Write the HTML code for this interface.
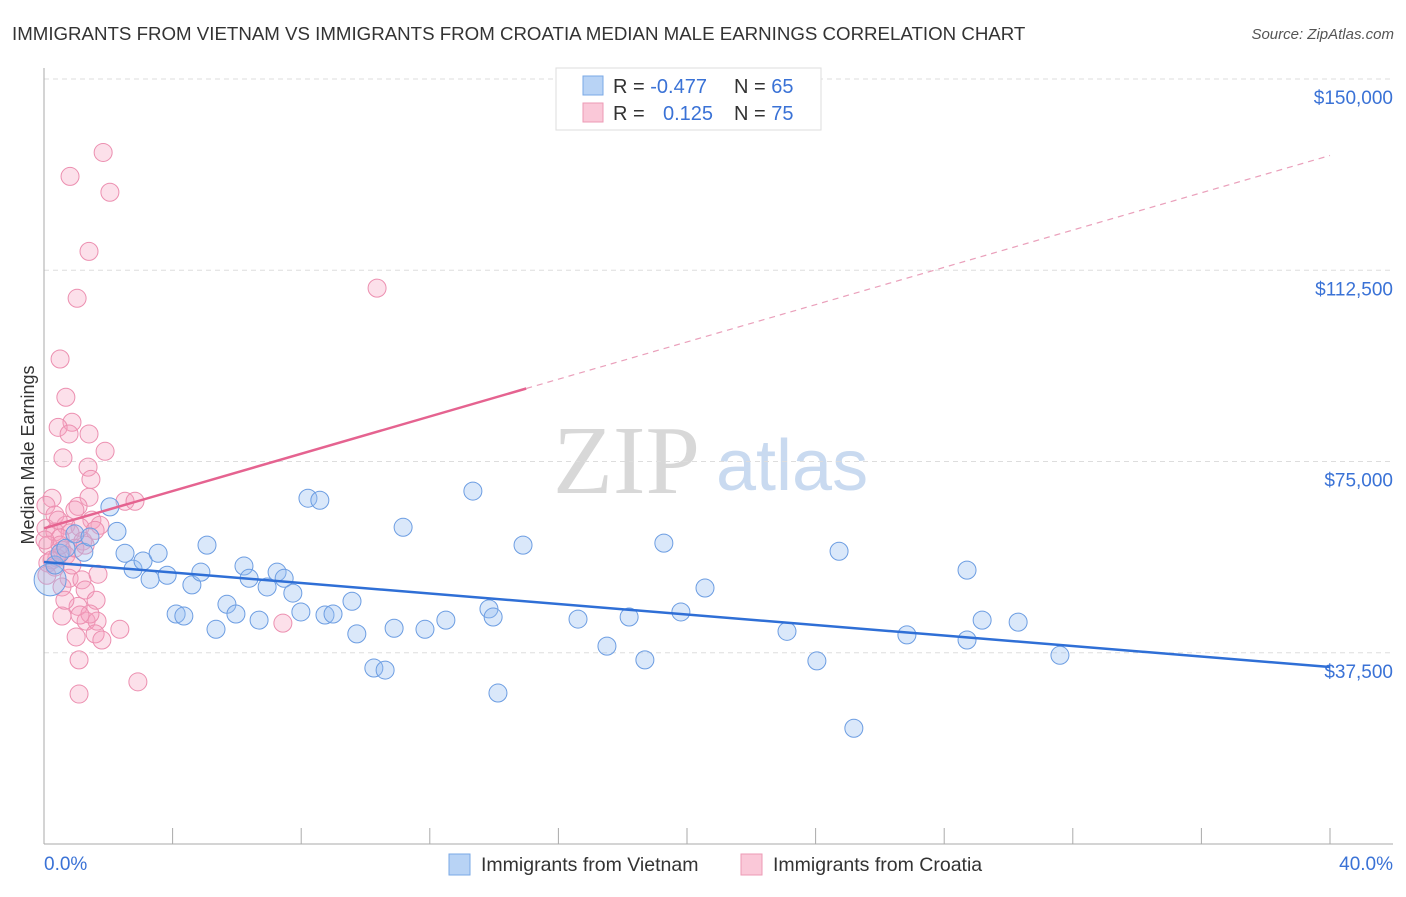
<!DOCTYPE html>
<html><head><meta charset="utf-8"><style>
body{margin:0;background:#fff;font-family:"Liberation Sans",sans-serif}
svg text{font-family:"Liberation Sans",sans-serif}
</style></head><body>
<svg id="c" width="1406" height="892" viewBox="0 0 1406 892">
<text x="12" y="40" font-size="18.7" fill="#333">IMMIGRANTS FROM VIETNAM VS IMMIGRANTS FROM CROATIA MEDIAN MALE EARNINGS CORRELATION CHART</text>
<text x="1394" y="39" font-size="15" fill="#555" font-style="italic" text-anchor="end">Source: ZipAtlas.com</text>
<g>
<text x="553" y="493" font-size="98" fill="#d8d8d8" font-family="Liberation Serif" style="font-family:'Liberation Serif',serif">ZIP</text>
<text x="716" y="490" font-size="72" fill="#c9daf0">atlas</text>
</g>
<g id="grid"></g>
<g id="axes"></g>
<g id="pts"></g>
<g id="trend"></g>
<text transform="translate(34,455) rotate(-90)" font-size="18" fill="#333" text-anchor="middle">Median Male Earnings</text>
<g>
<rect x="556" y="68" width="265" height="62" fill="#fff" stroke="#ddd"/>
<rect x="583" y="76" width="20" height="19" fill="#b8d3f5" stroke="#7aa8e6"/>
<rect x="583" y="103" width="20" height="19" fill="#fac8d8" stroke="#ec9ab5"/>
<text x="613" y="93" font-size="20" fill="#333">R = <tspan fill="#3a72d6">-0.477</tspan></text>
<text x="734" y="93" font-size="20" fill="#333">N = <tspan fill="#3a72d6">65</tspan></text>
<text x="613" y="120" font-size="20" fill="#333">R = </text>
<text x="663" y="120" font-size="20" fill="#3a72d6">0.125</text>
<text x="734" y="120" font-size="20" fill="#333">N = <tspan fill="#3a72d6">75</tspan></text>
</g>
<g>
<rect x="449" y="854" width="21" height="21" fill="#b8d3f5" stroke="#7aa8e6"/>
<text x="481" y="871" font-size="19.5" fill="#333">Immigrants from Vietnam</text>
<rect x="741" y="854" width="21" height="21" fill="#fac8d8" stroke="#ec9ab5"/>
<text x="773" y="871" font-size="19.5" fill="#333">Immigrants from Croatia</text>
</g>
</svg>
<script>
const yTicks=[37.5,75,112.5,150];
const yTickLabels=["$37,500","$75,000","$112,500","$150,000"];
const xTicks=[0,4,8,12,16,20,24,28,32,36,40];
const xEndLabels=["0.0%","40.0%"];
const vietX=[0.19,0.34,0.5,0.68,1.24,2.05,2.27,2.52,2.77,3.08,3.3,3.55,3.83,4.11,4.35,4.6,4.88,5.07,5.35,5.69,5.97,6.22,6.38,6.69,6.94,7.25,7.47,7.74,7.99,8.21,8.58,8.74,8.99,9.58,9.73,10.26,10.61,10.89,11.17,11.85,12.5,13.34,13.84,13.97,14.12,14.9,16.61,17.51,18.2,18.69,19.28,19.81,20.56,23.11,24.04,24.73,25.19,26.84,28.71,28.71,29.18,30.3,31.6,0.96,1.43];
const vietY=[51.8,54.7,57.0,58.0,57.2,66.1,61.3,57.0,53.9,55.5,51.9,57.0,52.7,45.1,44.7,50.8,53.3,58.6,42.1,47.0,45.1,54.5,52.1,43.9,50.4,53.3,52.1,49.2,45.5,67.8,67.4,44.9,45.1,47.6,41.2,34.5,34.1,42.3,62.1,42.1,43.9,69.2,46.1,44.5,29.6,58.6,44.1,38.8,44.5,36.1,59.0,45.5,50.2,41.7,35.9,57.4,22.7,41.0,40.0,53.7,43.9,43.5,37.0,60.8,60.2];
const croX=[1.84,0.81,2.05,1.4,10.36,1.03,0.5,0.68,0.87,0.44,0.78,1.4,1.9,0.59,1.37,1.46,1.4,0.25,2.52,2.83,0.06,1.06,0.34,1.49,0.68,1.12,0.06,0.34,0.81,0.5,1.21,0.12,0.56,0.96,0.4,0.68,0.12,0.34,1.68,0.78,1.18,0.56,1.28,1.62,1.06,0.56,1.31,1.65,2.36,7.43,1.0,1.59,1.8,1.09,2.92,1.09,0.25,0.09,0.5,0.87,0.03,0.44,0.96,1.74,1.28,1.59,0.65,1.43,1.12];
const croY=[135.6,130.9,127.8,116.2,109.0,107.0,95.1,87.6,82.7,81.7,80.4,80.4,77.0,75.7,73.9,71.5,68.0,67.8,67.2,67.2,66.4,66.2,64.5,63.5,62.5,62.1,61.9,61.2,61.0,60.0,59.4,58.6,57.6,58.0,56.1,56.6,55.1,54.3,52.9,52.1,51.8,50.4,49.8,47.8,46.6,44.7,43.7,43.7,42.1,43.3,40.6,41.2,40.0,36.1,31.8,29.4,55.7,52.7,58.6,54.7,59.6,63.5,65.5,62.5,58.6,61.5,47.8,45.1,44.9];
const vietTrend=[55.3,34.7];   // value at 0% and 40%
const croTrend=[61.9,135.0];   // value at 0% and 40%
const croSolidEnd=15;

const NS="http://www.w3.org/2000/svg";
const X=v=>44+v*32.15;
const Y=v=>844-v*5.1;
function mk(tag,at,parent){const e=document.createElementNS(NS,tag);for(const k in at)e.setAttribute(k,at[k]);document.getElementById(parent).appendChild(e);return e;}

yTicks.forEach((t,i)=>{
  const g=mk('line',{x1:44,x2:1393,y1:Y(t),y2:Y(t),stroke:'#ddd','stroke-dasharray':'5,4'},'grid');
  
  
  const l=mk('text',{x:1393,y:Y(t)+25,'font-size':19,fill:'#3a72d6','text-anchor':'end'},'axes');
  l.textContent=yTickLabels[i];
  
  
});
const ya=mk('line',{x1:44,x2:44,y1:68,y2:844,stroke:'#aaa'},'axes');


const xa=mk('line',{x1:44,x2:1393,y1:844,y2:844,stroke:'#aaa'},'axes');


xTicks.forEach(t=>{
  const k=mk('line',{x1:X(t),x2:X(t),y1:828,y2:844,stroke:'#aaa'},'axes');
  
  
});
const l0=mk('text',{x:44,y:870,'font-size':19,fill:'#3a72d6'},'axes');l0.textContent=xEndLabels[0];


const l1=mk('text',{x:1393,y:870,'font-size':19,fill:'#3a72d6','text-anchor':'end'},'axes');l1.textContent=xEndLabels[1];



croX.forEach((x,i)=>{
  const c=mk('circle',{cx:X(x),cy:Y(croY[i]),r:9,fill:'rgba(245,160,190,0.32)',stroke:'#ec8fb0','stroke-width':1},'pts');
  
  
});
vietX.forEach((x,i)=>{
  const c=mk('circle',{cx:X(x),cy:Y(vietY[i]),r:i===0?16:9,fill:'rgba(150,190,240,0.35)',stroke:'#6c9de2','stroke-width':1},'pts');
  
  
});
const vt=mk('line',{x1:X(0),y1:Y(vietTrend[0]),x2:X(40),y2:Y(vietTrend[1]),stroke:'#2f6fd6','stroke-width':2.5},'trend');


const cy=v=>croTrend[0]+(croTrend[1]-croTrend[0])*v/40;
const ct=mk('line',{x1:X(0),y1:Y(cy(0)),x2:X(croSolidEnd),y2:Y(cy(croSolidEnd)),stroke:'#e56390','stroke-width':2.5},'trend');


const cd=mk('line',{x1:X(croSolidEnd),y1:Y(cy(croSolidEnd)),x2:X(40),y2:Y(cy(40)),stroke:'#eaa0bb','stroke-width':1.2,'stroke-dasharray':'6,5'},'trend');


</script>
</body></html>
